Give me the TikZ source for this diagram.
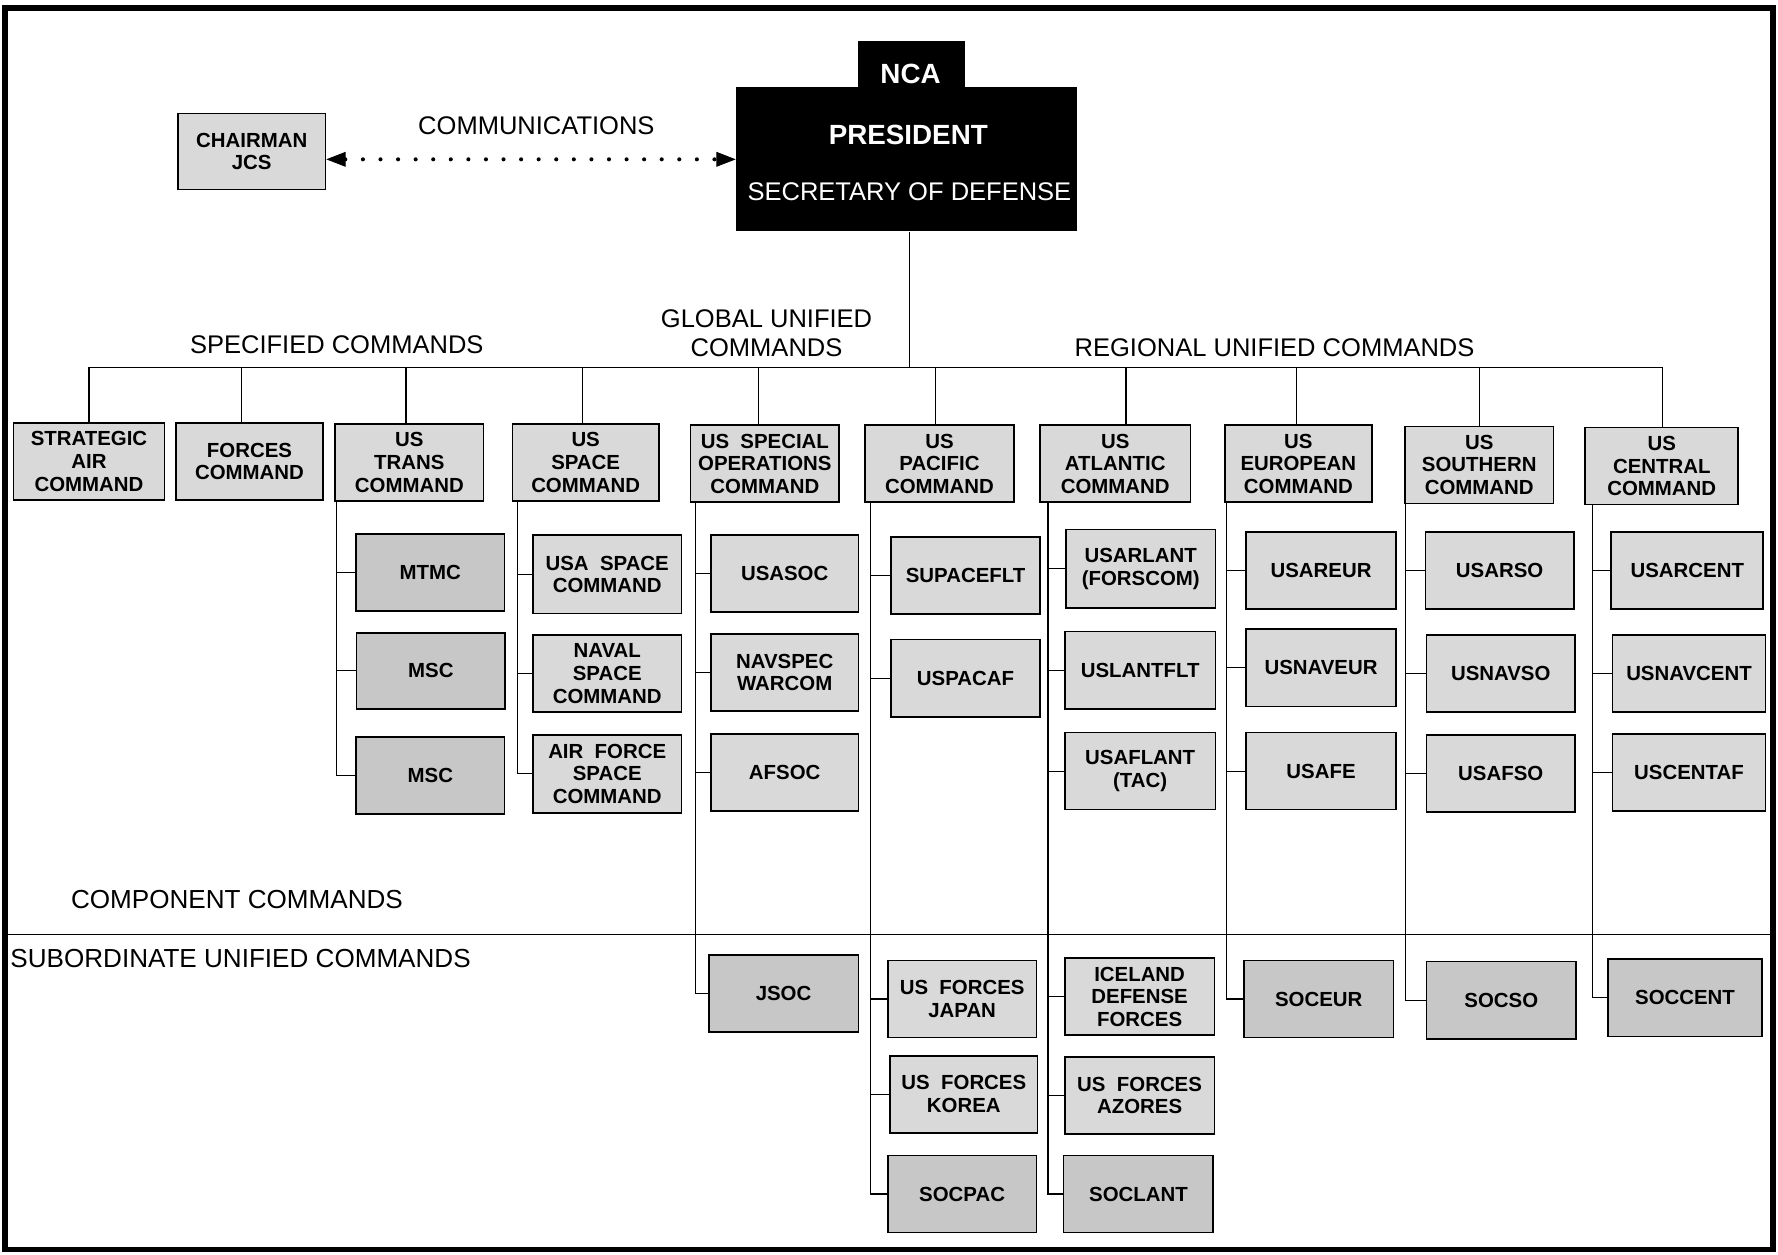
\documentclass[tikz,border=0pt]{standalone}
\usepackage{fontspec}
\setmainfont{Liberation Sans}
\usetikzlibrary{arrows.meta,calc}
\tikzset{
  box/.style={draw=black, line width=1.5pt, fill=black!15, minimum width=131pt, minimum height=68pt,
    inner sep=0pt, align=center, font=\fontsize{18}{20}\selectfont\bfseries},
  dbox/.style={box, fill=black!22},
  lbl/.style={inner sep=0pt, font=\fontsize{22.5}{26}\selectfont, align=center},
  conn/.style={line width=1pt, draw=black},
  dots/.style={line width=3.6pt, line cap=round, dash pattern=on 0pt off 15.5pt,
    {Triangle[length=17pt,width=13pt,line width=0.8pt]}-{Triangle[length=17pt,width=13pt,line width=0.8pt]}},
}
\begin{document}
\begin{tikzpicture}[x=1pt,y=-1pt]
\useasboundingbox (0,0) rectangle (1568,1106);
\fill[white] (0,0) rectangle (1568,1106);
\draw[line width=5pt] (4.5,7) rectangle (1563.5,1102);

% NCA
\node[fill=black, minimum width=301pt, minimum height=127pt, inner sep=0pt] (nca) at (799.5,140.5) {};
\node[fill=black, minimum width=94pt, minimum height=44pt, inner sep=0pt] (tab) at (804,58) {};
\node[text=white, inner sep=0pt, font=\fontsize{24.5}{28}\selectfont\bfseries] (ncat) at (803,65) {NCA};
\node[text=white, inner sep=0pt, font=\fontsize{24.5}{28}\selectfont\bfseries] (pres) at (801,119) {PRESIDENT};
\node[text=white, inner sep=0pt, font=\fontsize{22.5}{26}\selectfont] (secdef) at (802,169) {SECRETARY OF DEFENSE};

% Chairman
\node[box, minimum width=130pt, minimum height=67pt] (chair) at (222,133.5) {CHAIRMAN\\JCS};
\node[lbl] (comm) at (473,111) {COMMUNICATIONS};
\draw[dots] (nca.west -| chair.east) -- (nca.west);

% labels
\node[lbl] (spec) at (297,304) {SPECIFIED COMMANDS};
\node[lbl] (glob) at (676,294) {GLOBAL UNIFIED\\COMMANDS};
\node[lbl] (reg) at (1124,307) {REGIONAL UNIFIED COMMANDS};
\node[lbl, font=\fontsize{23}{26}\selectfont] (compc) at (209,793) {COMPONENT COMMANDS};
\node[lbl, anchor=west, font=\fontsize{23}{26}\selectfont] (subc) at (9,845) {SUBORDINATE UNIFIED COMMANDS};

% divider
\draw[line width=1.4pt] (5,824) -- (1563,824);

% top level
\node[box, minimum width=133pt] (sac) at (78.5,407) {STRATEGIC\\AIR\\COMMAND};
\node[box, minimum width=130pt] (forces) at (220,407) {FORCES\\COMMAND};
\node[box] (trans) at (361,408) {US\\TRANS\\COMMAND};
\node[box, minimum width=129pt] (space) at (516.5,408) {US\\SPACE\\COMMAND};
\node[box] (socom) at (674.5,409) {US~~SPECIAL\\OPERATIONS\\COMMAND};
\node[box] (pacom) at (828.5,409) {US\\PACIFIC\\COMMAND};
\node[box, minimum width=133pt] (lantcom) at (983.5,409) {US\\ATLANTIC\\COMMAND};
\node[box, minimum width=130pt] (eucom) at (1145,409) {US\\EUROPEAN\\COMMAND};
\node[box] (southcom) at (1304.5,410) {US\\SOUTHERN\\COMMAND};
\node[box, minimum width=135pt] (centcom) at (1465.5,411) {US\\CENTRAL\\COMMAND};

% bus
\coordinate (bus) at (802,324);
\draw[conn] (bus |- nca.south) -- (bus);
\draw[conn] (sac.north |- bus) -- (centcom.north |- bus);
\foreach \n/\dx in {sac/0,forces/-7,trans/-3,space/-2.5,socom/-5.5,pacom/-3.5,lantcom/9.5,eucom/-2,southcom/0.5,centcom/0.5}{
  \draw[conn] ([xshift=\dx pt]\n.north |- bus) -- ([xshift=\dx pt]\n.north);
}

% TRANS components
\node[dbox] (mtmc) at (379.5,505) {MTMC};
\node[dbox, minimum height=67pt] (msca) at (380,591.5) {MSC};
\node[dbox] (mscb) at (379.5,684) {MSC};
\coordinate (sT) at ([xshift=2pt]trans.south west);
\draw[conn] (sT) |- (mscb.west);
\foreach \c in {mtmc,msca}{\draw[conn] (sT |- \c.west) -- (\c.west);}

% SPACE components
\node[box, minimum height=69pt] (usaspace) at (535.5,506.5) {USA~~SPACE\\COMMAND};
\node[box] (navspace) at (535.5,594) {NAVAL\\SPACE\\COMMAND};
\node[box, minimum height=69pt] (afspace) at (535.5,682.5) {AIR~~FORCE\\SPACE\\COMMAND};
\coordinate (sS) at ([xshift=5pt]space.south west);
\draw[conn] (sS) |- (afspace.west);
\foreach \c in {usaspace,navspace}{\draw[conn] (sS |- \c.west) -- (\c.west);}

% SOCOM components
\node[box, minimum width=130pt] (usasoc) at (692,506) {USASOC};
\node[box, minimum width=130pt] (navspec) at (692,593) {NAVSPEC\\WARCOM};
\node[box, minimum width=130pt] (afsoc) at (692,681) {AFSOC};
\node[dbox, minimum width=132pt] (jsoc) at (691,876) {JSOC};
\coordinate (sO) at ([xshift=5pt]socom.south west);
\draw[conn] (sO) |- (jsoc.west);
\foreach \c in {usasoc,navspec,afsoc}{\draw[conn] (sO |- \c.west) -- (\c.west);}

% PACOM components
\node[box] (supacflt) at (851.5,507.5) {SUPACEFLT};
\node[box] (uspacaf) at (851.5,598) {USPACAF};
\node[box] (usfj) at (848.5,881) {US~~FORCES\\JAPAN};
\node[box, minimum width=130pt] (usfk) at (850,965) {US~~FORCES\\KOREA};
\node[dbox] (socpac) at (848.5,1053) {SOCPAC};
\coordinate (sP) at ([xshift=5.5pt]pacom.south west);
\draw[conn] (sP) |- (socpac.west);
\foreach \c in {supacflt,uspacaf,usfj,usfk}{\draw[conn] (sP |- \c.west) -- (\c.west);}

% LANTCOM components
\node[box, minimum width=132pt, minimum height=69pt] (usarlant) at (1006,501.5) {USARLANT\\(FORSCOM)};
\node[box, minimum width=133pt] (uslantflt) at (1005.5,591) {USLANTFLT};
\node[box, minimum width=133pt] (usaflant) at (1005.5,680) {USAFLANT\\(TAC)};
\node[box, minimum width=132pt] (iceland) at (1005,879) {ICELAND\\DEFENSE\\FORCES};
\node[box, minimum width=132pt] (azores) at (1005,966) {US~~FORCES\\AZORES};
\node[dbox, minimum width=132pt] (soclant) at (1004,1053) {SOCLANT};
\coordinate (sL) at ([xshift=8pt]lantcom.south west);
\draw[conn] (sL) |- (soclant.west);
\foreach \c in {usarlant,uslantflt,usaflant,iceland,azores}{\draw[conn] (sL |- \c.west) -- (\c.west);}

% EUCOM components
\node[box, minimum width=132pt] (usareur) at (1165,503) {USAREUR};
\node[box, minimum width=132pt] (usnaveur) at (1165,589) {USNAVEUR};
\node[box, minimum width=132pt] (usafe) at (1165,680) {USAFE};
\node[dbox, minimum width=132pt] (soceur) at (1163,881) {SOCEUR};
\coordinate (sE) at ([xshift=2pt]eucom.south west);
\draw[conn] (sE) |- (soceur.west);
\foreach \c in {usareur,usnaveur,usafe}{\draw[conn] (sE |- \c.west) -- (\c.west);}

% SOUTHCOM components
\node[box] (usarso) at (1322.5,503) {USARSO};
\node[box] (usnavso) at (1323.5,594) {USNAVSO};
\node[box] (usafso) at (1323.5,682) {USAFSO};
\node[dbox, minimum width=132pt] (socso) at (1324,882) {SOCSO};
\coordinate (sSo) at ([xshift=1pt]southcom.south west);
\draw[conn] (sSo) |- (socso.west);
\foreach \c in {usarso,usnavso,usafso}{\draw[conn] (sSo |- \c.west) -- (\c.west);}

% CENTCOM components
\node[box, minimum width=134pt] (usarcent) at (1488,503) {USARCENT};
\node[box, minimum width=135pt] (usnavcent) at (1489.5,594) {USNAVCENT};
\node[box, minimum width=135pt] (uscentaf) at (1489.5,681) {USCENTAF};
\node[dbox, minimum width=136pt] (soccent) at (1486,880) {SOCCENT};
\coordinate (sC) at ([xshift=7pt]centcom.south west);
\draw[conn] (sC) |- (soccent.west);
\foreach \c in {usarcent,usnavcent,uscentaf}{\draw[conn] (sC |- \c.west) -- (\c.west);}
\end{tikzpicture}
\end{document}
